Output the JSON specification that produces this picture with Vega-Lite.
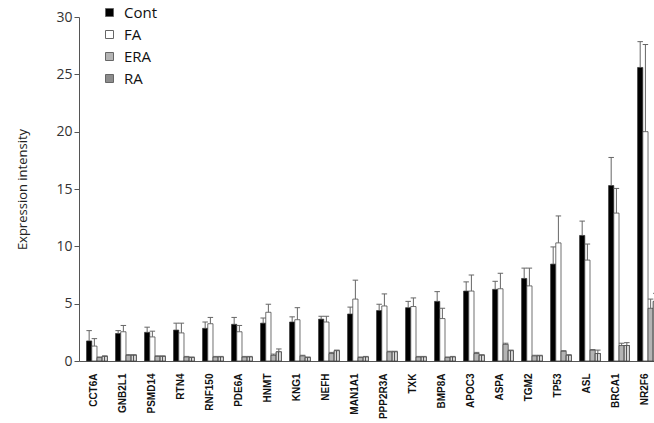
{
  "$schema": "https://vega.github.io/schema/vega-lite/v6.json",
  "width": 587,
  "height": 344,
  "autosize": {"type": "none"},
  "padding": {"left": 79, "top": 17, "right": 0, "bottom": 62},
  "background": "white",
  "data": {
    "values": [
      {"gene": "CCT6A", "group": "Cont", "value": 1.75, "upper": 2.65},
      {"gene": "CCT6A", "group": "FA", "value": 1.3, "upper": 1.95},
      {"gene": "CCT6A", "group": "ERA", "value": 0.3, "upper": 0.35},
      {"gene": "CCT6A", "group": "RA", "value": 0.4, "upper": 0.45},
      {"gene": "GNB2L1", "group": "Cont", "value": 2.4, "upper": 2.65},
      {"gene": "GNB2L1", "group": "FA", "value": 2.55, "upper": 3.1},
      {"gene": "GNB2L1", "group": "ERA", "value": 0.5, "upper": 0.55},
      {"gene": "GNB2L1", "group": "RA", "value": 0.5, "upper": 0.55},
      {"gene": "PSMD14", "group": "Cont", "value": 2.5, "upper": 2.95},
      {"gene": "PSMD14", "group": "FA", "value": 2.1, "upper": 2.6},
      {"gene": "PSMD14", "group": "ERA", "value": 0.4, "upper": 0.45},
      {"gene": "PSMD14", "group": "RA", "value": 0.4, "upper": 0.45},
      {"gene": "RTN4", "group": "Cont", "value": 2.7, "upper": 3.3},
      {"gene": "RTN4", "group": "FA", "value": 2.45, "upper": 3.3},
      {"gene": "RTN4", "group": "ERA", "value": 0.35, "upper": 0.4},
      {"gene": "RTN4", "group": "RA", "value": 0.3, "upper": 0.35},
      {"gene": "RNF150", "group": "Cont", "value": 2.85, "upper": 3.4},
      {"gene": "RNF150", "group": "FA", "value": 3.25, "upper": 3.8},
      {"gene": "RNF150", "group": "ERA", "value": 0.35, "upper": 0.4},
      {"gene": "RNF150", "group": "RA", "value": 0.35, "upper": 0.4},
      {"gene": "PDE6A", "group": "Cont", "value": 3.2, "upper": 3.8},
      {"gene": "PDE6A", "group": "FA", "value": 2.55, "upper": 3.1},
      {"gene": "PDE6A", "group": "ERA", "value": 0.35, "upper": 0.4},
      {"gene": "PDE6A", "group": "RA", "value": 0.35, "upper": 0.4},
      {"gene": "HNMT", "group": "Cont", "value": 3.3, "upper": 3.75},
      {"gene": "HNMT", "group": "FA", "value": 4.25, "upper": 4.95},
      {"gene": "HNMT", "group": "ERA", "value": 0.5, "upper": 0.6},
      {"gene": "HNMT", "group": "RA", "value": 0.8, "upper": 1.05},
      {"gene": "KNG1", "group": "Cont", "value": 3.4, "upper": 3.85},
      {"gene": "KNG1", "group": "FA", "value": 3.6, "upper": 4.65},
      {"gene": "KNG1", "group": "ERA", "value": 0.45, "upper": 0.5},
      {"gene": "KNG1", "group": "RA", "value": 0.3, "upper": 0.35},
      {"gene": "NEFH", "group": "Cont", "value": 3.65, "upper": 3.9},
      {"gene": "NEFH", "group": "FA", "value": 3.4, "upper": 3.9},
      {"gene": "NEFH", "group": "ERA", "value": 0.65, "upper": 0.75},
      {"gene": "NEFH", "group": "RA", "value": 0.9, "upper": 0.95},
      {"gene": "MAN1A1", "group": "Cont", "value": 4.1, "upper": 4.7},
      {"gene": "MAN1A1", "group": "FA", "value": 5.4, "upper": 7.05},
      {"gene": "MAN1A1", "group": "ERA", "value": 0.3, "upper": 0.35},
      {"gene": "MAN1A1", "group": "RA", "value": 0.35, "upper": 0.4},
      {"gene": "PPP2R3A", "group": "Cont", "value": 4.4, "upper": 4.95},
      {"gene": "PPP2R3A", "group": "FA", "value": 4.8, "upper": 5.85},
      {"gene": "PPP2R3A", "group": "ERA", "value": 0.8, "upper": 0.85},
      {"gene": "PPP2R3A", "group": "RA", "value": 0.8, "upper": 0.85},
      {"gene": "TXK", "group": "Cont", "value": 4.65, "upper": 5.2},
      {"gene": "TXK", "group": "FA", "value": 4.75, "upper": 5.5},
      {"gene": "TXK", "group": "ERA", "value": 0.35, "upper": 0.4},
      {"gene": "TXK", "group": "RA", "value": 0.35, "upper": 0.4},
      {"gene": "BMP8A", "group": "Cont", "value": 5.2, "upper": 6.05},
      {"gene": "BMP8A", "group": "FA", "value": 3.7, "upper": 4.6},
      {"gene": "BMP8A", "group": "ERA", "value": 0.3, "upper": 0.35},
      {"gene": "BMP8A", "group": "RA", "value": 0.35, "upper": 0.4},
      {"gene": "APOC3", "group": "Cont", "value": 6.1, "upper": 6.9},
      {"gene": "APOC3", "group": "FA", "value": 6.1, "upper": 7.5},
      {"gene": "APOC3", "group": "ERA", "value": 0.65, "upper": 0.75},
      {"gene": "APOC3", "group": "RA", "value": 0.5, "upper": 0.55},
      {"gene": "ASPA", "group": "Cont", "value": 6.25, "upper": 6.95},
      {"gene": "ASPA", "group": "FA", "value": 6.3, "upper": 7.65},
      {"gene": "ASPA", "group": "ERA", "value": 1.45, "upper": 1.55},
      {"gene": "ASPA", "group": "RA", "value": 0.9, "upper": 0.95},
      {"gene": "TGM2", "group": "Cont", "value": 7.2, "upper": 8.1},
      {"gene": "TGM2", "group": "FA", "value": 6.55, "upper": 8.1},
      {"gene": "TGM2", "group": "ERA", "value": 0.45, "upper": 0.5},
      {"gene": "TGM2", "group": "RA", "value": 0.45, "upper": 0.5},
      {"gene": "TP53", "group": "Cont", "value": 8.45, "upper": 9.95},
      {"gene": "TP53", "group": "FA", "value": 10.3, "upper": 12.65},
      {"gene": "TP53", "group": "ERA", "value": 0.85, "upper": 0.9},
      {"gene": "TP53", "group": "RA", "value": 0.5, "upper": 0.55},
      {"gene": "ASL", "group": "Cont", "value": 10.95, "upper": 12.2},
      {"gene": "ASL", "group": "FA", "value": 8.8, "upper": 10.2},
      {"gene": "ASL", "group": "ERA", "value": 0.95, "upper": 1.0},
      {"gene": "ASL", "group": "RA", "value": 0.65, "upper": 0.95},
      {"gene": "BRCA1", "group": "Cont", "value": 15.3, "upper": 17.75},
      {"gene": "BRCA1", "group": "FA", "value": 12.9, "upper": 15.05},
      {"gene": "BRCA1", "group": "ERA", "value": 1.35, "upper": 1.55},
      {"gene": "BRCA1", "group": "RA", "value": 1.35, "upper": 1.6},
      {"gene": "NR2F6", "group": "Cont", "value": 25.6, "upper": 27.85},
      {"gene": "NR2F6", "group": "FA", "value": 20.0, "upper": 27.6},
      {"gene": "NR2F6", "group": "ERA", "value": 4.6, "upper": 5.4},
      {"gene": "NR2F6", "group": "RA", "value": 5.2, "upper": 5.9}
    ]
  },
  "encoding": {
    "x": {
      "field": "gene",
      "type": "nominal",
      "sort": null,
      "scale": {"paddingInner": 0.28, "paddingOuter": 0.26},
      "axis": {
        "title": null,
        "ticks": false,
        "domainColor": "#555",
        "labelAngle": -90,
        "labelFont": "Liberation Sans",
        "labelFontWeight": "bold",
        "labelFontSize": 10,
        "labelColor": "#111",
        "labelPadding": 12,
        "labelOffset": -3
      }
    },
    "xOffset": {
      "field": "group",
      "type": "nominal",
      "sort": ["Cont", "FA", "ERA", "RA"],
      "scale": {"paddingInner": 0, "paddingOuter": 0}
    }
  },
  "layer": [
    {
      "mark": {"type": "bar", "stroke": "#333", "strokeWidth": 0.7},
      "encoding": {
        "y": {
          "field": "value",
          "type": "quantitative",
          "scale": {"domain": [0, 30], "nice": false},
          "axis": {
            "title": "Expression intensity",
            "titleFont": "Open Sans",
            "titleFontSize": 13,
            "titleFontWeight": "normal",
            "titleColor": "#222",
            "titlePadding": 26,
            "values": [0, 5, 10, 15, 20, 25, 30],
            "grid": false,
            "labelFont": "Open Sans",
            "labelFontSize": 14,
            "labelColor": "#333",
            "labelPadding": 2,
            "tickSize": 5,
            "tickColor": "#555",
            "domainColor": "#555"
          }
        },
        "color": {
          "field": "group",
          "type": "nominal",
          "sort": ["Cont", "FA", "ERA", "RA"],
          "scale": {"domain": ["Cont", "FA", "ERA", "RA"], "range": ["#000000", "#ffffff", "#b4b4b4", "#8c8c8c"]},
          "legend": {
            "title": null,
            "orient": "none",
            "legendX": 23,
            "legendY": -12,
            "symbolType": "square",
            "symbolSize": 64,
            "symbolStrokeColor": "#666",
            "symbolStrokeWidth": 1,
            "symbolOpacity": 1,
            "labelFont": "Open Sans",
            "labelFontSize": 15,
            "labelColor": "#111",
            "labelOffset": 7,
            "rowPadding": 6
          }
        }
      }
    },
    {
      "transform": [{"filter": "datum.group === 'RA'"}],
      "mark": {
        "type": "bar",
        "stroke": "#444",
        "strokeWidth": 0.7,
        "fill": {
          "gradient": "linear",
          "x1": 0, "y1": 0, "x2": 1, "y2": 0,
          "stops": [
            {"offset": 0, "color": "#d8d8d8"},
            {"offset": 0.3, "color": "#d8d8d8"},
            {"offset": 0.3, "color": "#555"},
            {"offset": 0.45, "color": "#555"},
            {"offset": 0.45, "color": "#d8d8d8"},
            {"offset": 0.65, "color": "#d8d8d8"},
            {"offset": 0.65, "color": "#555"},
            {"offset": 0.8, "color": "#555"},
            {"offset": 0.8, "color": "#d8d8d8"},
            {"offset": 1, "color": "#d8d8d8"}
          ]
        }
      },
      "encoding": {
        "y": {"field": "value", "type": "quantitative"}
      }
    },
    {
      "mark": {"type": "rule", "color": "#666", "strokeWidth": 1},
      "encoding": {
        "y": {"field": "value", "type": "quantitative"},
        "y2": {"field": "upper"}
      }
    },
    {
      "mark": {"type": "point", "shape": "M-1,0L1,0", "size": 30, "stroke": "#666", "strokeWidth": 1, "filled": false, "opacity": 1},
      "encoding": {
        "y": {"field": "upper", "type": "quantitative"}
      }
    }
  ],
  "config": {
    "view": {"stroke": null}
  }
}
